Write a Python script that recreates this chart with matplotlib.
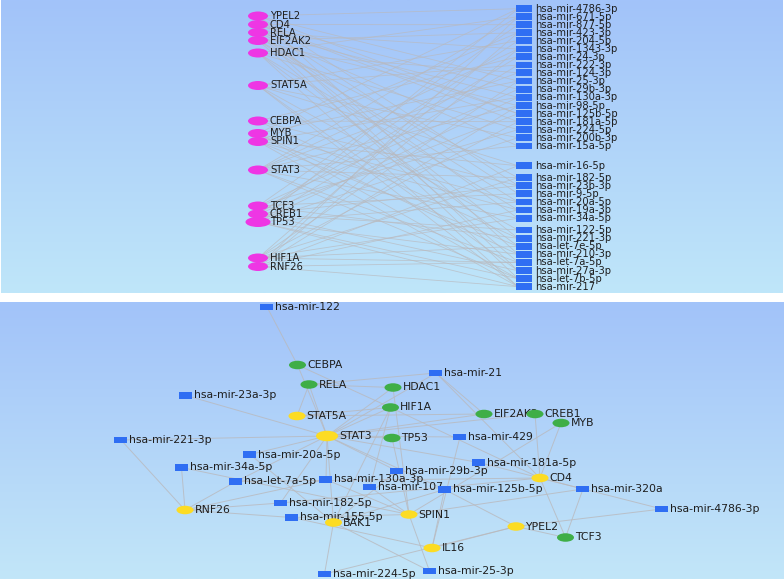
import numpy as np
import matplotlib
matplotlib.use("Agg")
import matplotlib.pyplot as plt
from matplotlib.patches import Ellipse, Rectangle
from matplotlib.collections import LineCollection
from matplotlib.colors import to_rgb

# ---------------- data: top (bipartite) panel ----------------
top_genes = ["YPEL2", "CD4", "RELA", "EIF2AK2", "HDAC1", "STAT5A", "CEBPA", "MYB",
             "SPIN1", "STAT3", "TCF3", "CREB1", "TP53", "HIF1A", "RNF26"]
top_gene_y = [16, 24.5, 32.5, 40.5, 53, 85.5, 121, 133.5, 141.5, 170, 206, 214, 222,
              258, 266.5]
top_mirs = ["hsa-mir-4786-3p", "hsa-mir-671-5p", "hsa-mir-877-5p", "hsa-mir-423-3p",
            "hsa-mir-204-5p", "hsa-mir-1343-3p", "hsa-mir-24-3p", "hsa-mir-222-3p",
            "hsa-mir-124-3p", "hsa-mir-25-3p", "hsa-mir-29b-3p", "hsa-mir-130a-3p",
            "hsa-mir-98-5p", "hsa-mir-125b-5p", "hsa-mir-181a-5p", "hsa-mir-224-5p",
            "hsa-mir-200b-3p", "hsa-mir-15a-5p", "hsa-mir-16-5p", "hsa-mir-182-5p",
            "hsa-mir-23b-3p", "hsa-mir-9-5p", "hsa-mir-20a-5p", "hsa-mir-19a-3p",
            "hsa-mir-34a-5p", "hsa-mir-122-5p", "hsa-mir-221-3p", "hsa-let-7e-5p",
            "hsa-mir-210-3p", "hsa-let-7a-5p", "hsa-mir-27a-3p", "hsa-let-7b-5p",
            "hsa-mir-217"]
top_mir_y = [8.7, 16.7, 24.7, 32.7, 40.7, 49, 56.7, 65, 72.7, 81, 89.3, 97.3, 105.7,
             113.7, 121.7, 129.7, 137.7, 146, 165.7, 177.7, 185.7, 193.7, 202, 210,
             218.3, 230, 238.3, 246.3, 254.3, 262.3, 270.7, 278.7, 286.7]
top_links = {
    "YPEL2": [0, 9, 13, 20, 28],
    "CD4": [2, 10, 13, 14, 21, 30],
    "RELA": [5, 11, 17, 24, 26, 31],
    "EIF2AK2": [3, 12, 19, 22, 29],
    "HDAC1": [1, 8, 15, 23, 27, 32],
    "STAT5A": [4, 7, 16, 18, 25, 30, 32],
    "CEBPA": [6, 14, 20, 26],
    "MYB": [0, 9, 22, 28, 31],
    "SPIN1": [3, 11, 18, 23, 27, 32],
    "STAT3": [1, 5, 8, 12, 17, 19, 24, 29, 31],
    "TCF3": [2, 10, 15, 21, 26],
    "CREB1": [4, 6, 13, 20, 25, 30],
    "TP53": [0, 7, 11, 16, 22, 28, 31, 32],
    "HIF1A": [3, 9, 14, 19, 24, 27, 29],
    "RNF26": [1, 5, 12, 18, 23, 29, 32],
}

# ---------------- data: bottom (network) panel ----------------
mir_nodes = ["hsa-mir-122", "hsa-mir-21", "hsa-mir-23a-3p", "hsa-mir-221-3p",
             "hsa-mir-429", "hsa-mir-20a-5p", "hsa-mir-34a-5p", "hsa-let-7a-5p",
             "hsa-mir-130a-3p", "hsa-mir-29b-3p", "hsa-mir-181a-5p", "hsa-mir-107",
             "hsa-mir-125b-5p", "hsa-mir-320a", "hsa-mir-182-5p", "hsa-mir-155-5p",
             "hsa-mir-4786-3p", "hsa-mir-224-5p", "hsa-mir-25-3p"]
mir_x = [267, 436, 186, 121, 460, 250, 181.5, 236, 326, 397, 479, 370, 444.5, 583,
         280.5, 292, 662, 324.5, 429.5]
mir_y = [307, 373, 395.5, 440, 437, 454.5, 467.5, 481.5, 479.5, 471, 462.5, 487,
         489.5, 489, 503, 517.5, 509, 574, 571]
green_nodes = ["CEBPA", "RELA", "HDAC1", "HIF1A", "TP53", "EIF2AK2", "CREB1", "MYB",
               "TCF3"]
green_x = [297.5, 309, 393, 390.5, 392, 484, 535, 561, 565.5]
green_y = [365, 384.5, 387.5, 407.5, 438, 414, 414, 423, 537.5]
yellow_nodes = ["STAT5A", "STAT3", "RNF26", "BAK1", "SPIN1", "IL16", "CD4", "YPEL2"]
yellow_x = [297, 327, 185, 333.5, 409, 432, 540, 516]
yellow_y = [416, 436, 510, 522.5, 514.5, 548, 478, 526.5]
net_edges = [
    ("hsa-mir-122", "CEBPA"), ("CEBPA", "STAT3"), ("CEBPA", "HIF1A"),
    ("RELA", "STAT5A"), ("RELA", "STAT3"), ("RELA", "HDAC1"), ("RELA", "hsa-mir-21"),
    ("hsa-mir-21", "STAT3"), ("hsa-mir-21", "CD4"), ("hsa-mir-21", "EIF2AK2"),
    ("HDAC1", "STAT3"), ("HDAC1", "SPIN1"), ("HIF1A", "STAT3"), ("HIF1A", "STAT5A"),
    ("HIF1A", "BAK1"), ("HIF1A", "CD4"), ("TP53", "STAT3"), ("TP53", "SPIN1"),
    ("EIF2AK2", "STAT3"), ("EIF2AK2", "STAT5A"), ("CREB1", "CD4"), ("CREB1", "STAT3"),
    ("MYB", "CD4"), ("MYB", "SPIN1"), ("hsa-mir-23a-3p", "STAT3"),
    ("hsa-mir-221-3p", "STAT3"), ("hsa-mir-221-3p", "RNF26"),
    ("hsa-mir-20a-5p", "STAT3"), ("hsa-mir-20a-5p", "BAK1"),
    ("hsa-mir-34a-5p", "RNF26"), ("hsa-mir-34a-5p", "SPIN1"),
    ("hsa-let-7a-5p", "RNF26"), ("hsa-let-7a-5p", "STAT3"), ("hsa-let-7a-5p", "CD4"),
    ("hsa-mir-130a-3p", "STAT3"), ("hsa-mir-130a-3p", "SPIN1"),
    ("hsa-mir-130a-3p", "RNF26"), ("hsa-mir-29b-3p", "STAT3"),
    ("hsa-mir-29b-3p", "BAK1"), ("hsa-mir-429", "STAT3"), ("hsa-mir-429", "IL16"),
    ("hsa-mir-181a-5p", "STAT3"), ("hsa-mir-181a-5p", "CD4"),
    ("hsa-mir-107", "SPIN1"), ("hsa-mir-107", "HIF1A"),
    ("hsa-mir-125b-5p", "STAT3"), ("hsa-mir-125b-5p", "YPEL2"),
    ("hsa-mir-125b-5p", "IL16"), ("hsa-mir-125b-5p", "BAK1"),
    ("hsa-mir-320a", "CD4"), ("hsa-mir-320a", "TCF3"), ("hsa-mir-320a", "SPIN1"),
    ("hsa-mir-4786-3p", "YPEL2"), ("hsa-mir-4786-3p", "CD4"),
    ("hsa-mir-182-5p", "RNF26"), ("hsa-mir-182-5p", "CD4"), ("hsa-mir-182-5p", "STAT3"),
    ("hsa-mir-155-5p", "RNF26"), ("hsa-mir-155-5p", "SPIN1"), ("hsa-mir-155-5p", "IL16"),
    ("hsa-mir-224-5p", "BAK1"), ("hsa-mir-224-5p", "YPEL2"),
    ("hsa-mir-25-3p", "SPIN1"), ("hsa-mir-25-3p", "BAK1"),
    ("YPEL2", "TCF3"), ("YPEL2", "IL16"), ("CD4", "TCF3"), ("BAK1", "STAT3"),
]

# ---------------- styles ----------------
MAGENTA = "#ee36e4"
BLUE = "#2f6ef3"
GREEN = "#3fae47"
YELLOW = "#fcdc24"
EDGE = "#b9b9bd"
TXT = "#1e1e1e"
FONT = "DejaVu Sans"

fig = plt.figure(figsize=(7.84, 5.79), dpi=100)
ax = fig.add_axes([0, 0, 1, 1])
ax.axis("off")


def gradient(ax, x0, x1, y0, y1, c_top, c_bot):
    t = np.linspace(0, 1, 256)[:, None, None]
    a = np.array(to_rgb(c_top))[None, None, :]
    b = np.array(to_rgb(c_bot))[None, None, :]
    img = a * (1 - t) + b * t
    ax.imshow(img, extent=(x0, x1, y1, y0), origin="upper", aspect="auto",
              interpolation="bilinear", zorder=0)


gradient(ax, 1, 783, 0, 293, "#a2c3fa", "#bfe6f9")
gradient(ax, 0, 784, 302, 579, "#a2c3fa", "#c2e6f8")
ax.set_xlim(0, 784)
ax.set_ylim(579, 0)

# ---- top panel ----
GX, MX = 258, 524
segs = []
for g, mids in top_links.items():
    gy = top_gene_y[top_genes.index(g)]
    for m in mids:
        segs.append([(GX, gy), (MX - 6, top_mir_y[m])])
ax.add_collection(LineCollection(segs, colors=EDGE, linewidths=0.6, alpha=0.7,
                                 zorder=1))

for name, y in zip(top_genes, top_gene_y):
    w, h = (25, 10) if name == "TP53" else (20, 9)
    ax.add_patch(Ellipse((GX, y), w, h, facecolor=MAGENTA, edgecolor="none",
                         zorder=4))
    ax.text(270, y, name, fontsize=7.2, family=FONT, color=TXT, va="center",
            ha="left", zorder=3)

for name, y in zip(top_mirs, top_mir_y):
    ax.add_patch(Rectangle((MX - 8, y - 3.3), 16, 6.6, facecolor=BLUE,
                           edgecolor="none", zorder=4))
    ax.text(535, y, name, fontsize=7.2, family=FONT, color=TXT, va="center",
            ha="left", zorder=3)

# ---- bottom panel ----
pos = {}
for n, x, y in zip(mir_nodes, mir_x, mir_y):
    pos[n] = (x, y)
for n, x, y in zip(green_nodes, green_x, green_y):
    pos[n] = (x, y)
for n, x, y in zip(yellow_nodes, yellow_x, yellow_y):
    pos[n] = (x, y)

nsegs = [[pos[a], pos[b]] for a, b in net_edges]
ax.add_collection(LineCollection(nsegs, colors=EDGE, linewidths=0.7, alpha=0.8,
                                 zorder=1))

for n, x, y in zip(mir_nodes, mir_x, mir_y):
    ax.add_patch(Rectangle((x - 6.5, y - 3.2), 13, 6.4, facecolor=BLUE,
                           edgecolor="none", zorder=4))
    ax.text(x + 8.5, y, n, fontsize=7.8, family=FONT, color=TXT, va="center",
            ha="left", zorder=3)

for n, x, y in zip(green_nodes, green_x, green_y):
    ax.add_patch(Ellipse((x, y), 17, 8.5, facecolor=GREEN, edgecolor="none",
                         zorder=4))
    ax.text(x + 9.5, y, n, fontsize=7.8, family=FONT, color=TXT, va="center",
            ha="left", zorder=3)

for n, x, y in zip(yellow_nodes, yellow_x, yellow_y):
    w, h = (22, 10.5) if n == "STAT3" else (17, 8.5)
    ax.add_patch(Ellipse((x, y), w, h, facecolor=YELLOW, edgecolor="none",
                         zorder=4))
    ax.text(x + w / 2 + 1, y, n, fontsize=7.8, family=FONT, color=TXT,
            va="center", ha="left", zorder=3)

fig.savefig("out.png", dpi=100, facecolor="white")
